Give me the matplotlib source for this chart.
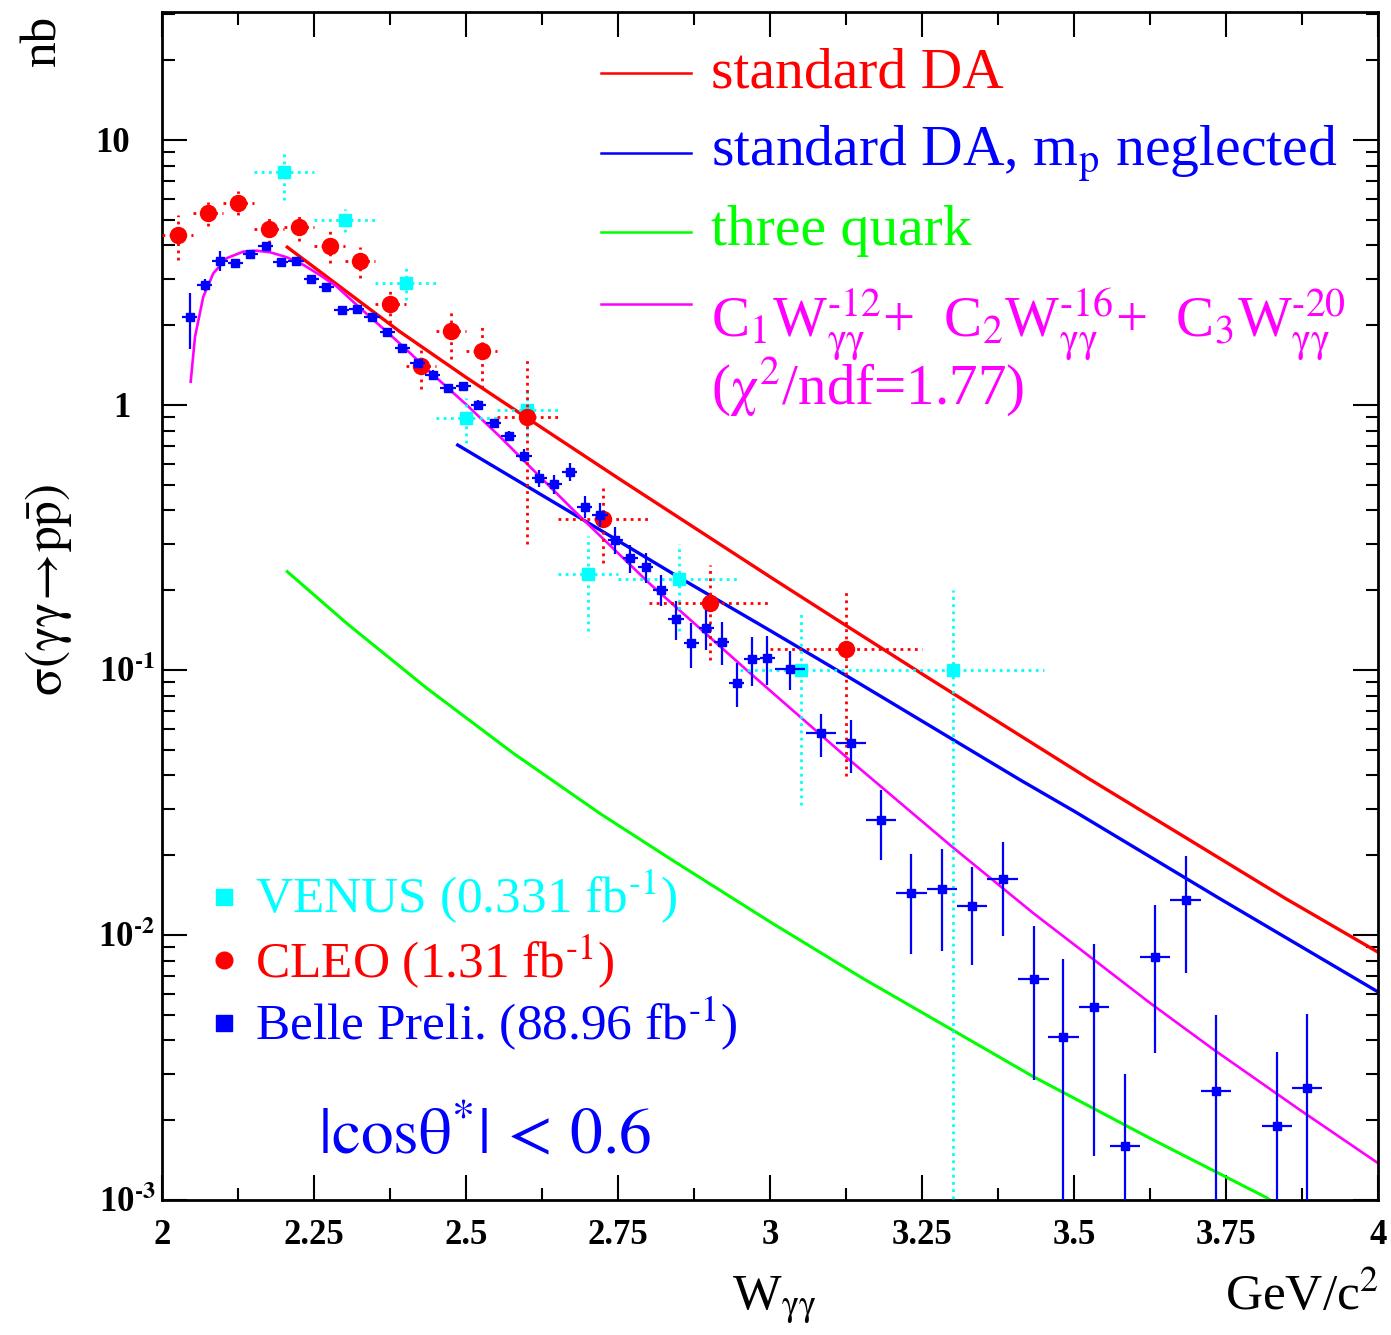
import numpy as np
import matplotlib
matplotlib.use("Agg")
import matplotlib.pyplot as plt
from matplotlib.lines import Line2D
from matplotlib.ticker import LogLocator, MultipleLocator, NullFormatter
import matplotlib.transforms as mtrans

plt.rcParams['font.family'] = ['Liberation Serif', 'DejaVu Serif']
plt.rcParams['mathtext.fontset'] = 'stix'

HY = '\u2010'  # short hyphen for exponents, like the original

# Belle preliminary (88.96 fb-1)
belle_w = [2.045, 2.070, 2.095, 2.120, 2.145, 2.170, 2.195, 2.220, 2.245, 2.270,
           2.295, 2.320, 2.345, 2.370, 2.395, 2.420, 2.445, 2.470, 2.495, 2.520,
           2.545, 2.570, 2.595, 2.620, 2.645, 2.670, 2.695, 2.720, 2.745, 2.770,
           2.795, 2.820, 2.845, 2.870, 2.895, 2.920, 2.945, 2.970, 2.995,
           3.032, 3.083, 3.133, 3.182, 3.232, 3.282, 3.332, 3.382, 3.433, 3.482,
           3.532, 3.583, 3.633, 3.683, 3.733, 3.833, 3.883]
belle_sig = [2.14, 2.84, 3.50, 3.44, 3.71, 3.99, 3.45, 3.50, 2.98, 2.78,
             2.28, 2.30, 2.14, 1.88, 1.64, 1.44, 1.30, 1.16, 1.18, 1.00,
             0.853, 0.764, 0.644, 0.529, 0.503, 0.560, 0.413, 0.385, 0.310, 0.265,
             0.245, 0.201, 0.156, 0.126, 0.144, 0.128, 0.0896, 0.110, 0.111,
             0.101, 0.0577, 0.0529, 0.0272, 0.0144, 0.0149, 0.0129, 0.0162, 0.00684, 0.00413,
             0.00537, 0.00160, 0.00828, 0.0135, 0.00258, 0.00191, 0.00264]
belle_err = [0.51, 0.14, 0.31, 0.12, 0.10, 0.10, 0.08, 0.08, 0.07, 0.07,
             0.07, 0.07, 0.06, 0.06, 0.05, 0.05, 0.05, 0.04, 0.04, 0.04,
             0.035, 0.035, 0.037, 0.04, 0.04, 0.045, 0.04, 0.04, 0.036, 0.032,
             0.032, 0.027, 0.026, 0.024, 0.025, 0.024, 0.017, 0.023, 0.023,
             0.017, 0.0108, 0.012, 0.008, 0.0059, 0.0062, 0.0052, 0.0063, 0.0040, 0.0040,
             0.0039, 0.0014, 0.0047, 0.0063, 0.0024, 0.0017, 0.0024]
belle_xerr = [0.0125] * 39 + [0.025] * 17

# CLEO (1.31 fb-1)
cleo_w = [2.025, 2.075, 2.125, 2.175, 2.225, 2.275, 2.325, 2.375, 2.425, 2.475,
          2.525, 2.600, 2.725, 2.900, 3.125]
cleo_sig = [4.38, 5.29, 5.80, 4.60, 4.71, 3.98, 3.49, 2.40, 1.40, 1.90,
            1.60, 0.90, 0.370, 0.1795, 0.1197]
cleo_err = [0.85, 0.55, 0.60, 0.50, 0.55, 0.55, 0.47, 0.36, 0.25, 0.41,
            0.44, 0.60, 0.116, 0.07, 0.08]
cleo_xerr = [0.025] * 11 + [0.05, 0.075, 0.1, 0.125]

# VENUS (0.331 fb-1)
venus_w = [2.2, 2.3, 2.4, 2.5, 2.6, 2.7, 2.85, 3.05, 3.3]
venus_sig = [7.55, 4.99, 2.89, 0.891, 0.960, 0.230, 0.220, 0.100, 0.100]
venus_err = [1.6, 0.5, 0.4, 0.17, 0.2, 0.09, 0.08, 0.069, 0.1]
venus_xerr = [0.05, 0.05, 0.05, 0.05, 0.05, 0.05, 0.1, 0.1, 0.15]

# theory curves
red_w = [2.2056, 2.391, 2.5007, 2.6322, 2.7528, 3.005, 3.1283, 3.2626, 3.523, 3.690, 3.8465, 4.0]
red_sig = [3.94, 1.889, 1.266, 0.798, 0.524, 0.2205, 0.1453, 0.0925, 0.0390, 0.0228, 0.01377, 0.0086]

blue_w = [2.4859, 2.665, 2.857, 3.0, 3.128, 3.4107, 3.5, 3.7396, 4.0]
blue_sig = [0.706, 0.402, 0.2187, 0.1407, 0.0943, 0.0385, 0.0293, 0.0137, 0.00609]

green_w = [2.2056, 2.3033, 2.4349, 2.5773, 2.7199, 2.8367, 3.0012, 3.1503, 3.4326, 3.6245, 3.8164, 3.84]
green_sig = [0.235, 0.150, 0.0854, 0.0485, 0.02874, 0.0193, 0.01115, 0.00690, 0.00292, 0.00171, 0.00102, 0.00093]

fit_w = [2.0467, 2.0538, 2.0674, 2.0839, 2.1059, 2.1332, 2.1553, 2.1771, 2.2046, 2.2319,
         2.2594, 2.2868, 2.3141, 2.3416, 2.3691, 2.3964, 2.4457, 2.5007, 2.5554, 2.6102,
         2.676, 2.8021, 2.9666, 3.1311, 3.2956, 3.4321, 3.5423, 3.6245, 3.7281, 3.8712, 4.0]
fit_sig = [1.224, 1.81, 2.56, 3.14, 3.58, 3.79, 3.82, 3.77, 3.61, 3.38,
           3.09, 2.80, 2.45, 2.15, 1.89, 1.66, 1.298, 1.0, 0.759, 0.568,
           0.4016, 0.2112, 0.0974, 0.0456, 0.02185, 0.01211, 0.00774, 0.00554, 0.00371, 0.002186, 0.001375]

ytick_vals = [1e-3, 1e-2, 1e-1, 1, 10]
ytick_text = ['10$^{\\mathbf{' + HY + '3}}$', '10$^{\\mathbf{' + HY + '2}}$',
              '10$^{\\mathbf{' + HY + '1}}$', '1', '10']
xtick_vals = [2, 2.25, 2.5, 2.75, 3, 3.25, 3.5, 3.75, 4]
xtick_text = ['2', '2.25', '2.5', '2.75', '3', '3.25', '3.5', '3.75', '4']

RED = '#ff0000'
BLUE = '#0000ff'
GREEN = '#00ff00'
MAG = '#ff00ff'
CYAN = '#00ffff'

W, H = 1391, 1335
fig = plt.figure(figsize=(W / 100, H / 100), dpi=100)
ax = fig.add_axes([162.3 / W, 1 - 1200 / H, 1216 / W, 1188 / H])
ax.set_yscale('log')
ax.set_xlim(2, 4)
ax.set_ylim(1e-3, 30.4)

# curves
ax.plot(red_w, red_sig, color=RED, lw=2.4, zorder=2)
ax.plot(blue_w, blue_sig, color=BLUE, lw=2.4, zorder=2)
ax.plot(green_w, green_sig, color=GREEN, lw=2.2, zorder=2)
ax.plot(fit_w, fit_sig, color=MAG, lw=1.9, zorder=2)

dots = (0, (1, 1.6))
eb = ax.errorbar(venus_w, venus_sig, yerr=venus_err, xerr=venus_xerr, fmt='s',
                 color=CYAN, ms=8.5, elinewidth=2.0, capsize=0, zorder=3)
for c in eb[2]:
    c.set_linestyle(dots)
eb = ax.errorbar(cleo_w, cleo_sig, yerr=cleo_err, xerr=cleo_xerr, fmt='o',
                 color=RED, ms=11.5, elinewidth=2.0, capsize=0, zorder=4)
for c in eb[2]:
    c.set_linestyle(dots)
ax.errorbar(belle_w, belle_sig, yerr=belle_err, xerr=belle_xerr, fmt='s',
            color=BLUE, ms=6, elinewidth=1.6, capsize=0, zorder=5)

# axes cosmetics
for sp in ax.spines.values():
    sp.set_linewidth(2.0)
ax.set_xticks(xtick_vals)
ax.set_xticklabels(xtick_text, fontsize=25, fontweight='bold')
ax.xaxis.set_minor_locator(MultipleLocator(0.125))
ax.yaxis.set_major_locator(LogLocator(base=10, numticks=10))
ax.yaxis.set_minor_locator(LogLocator(base=10, subs=np.arange(2, 10), numticks=20))
ax.yaxis.set_major_formatter(NullFormatter())
ax.yaxis.set_minor_formatter(NullFormatter())
ax.tick_params(which='both', direction='in', top=True, right=True, width=1.5)
ax.tick_params(which='major', length=18)
ax.tick_params(which='minor', length=9)
ax.tick_params(axis='x', which='major', pad=14)

trans = mtrans.blended_transform_factory(ax.transAxes, ax.transData)
for v, t in zip(ytick_vals, ytick_text):
    dx = -7 if '$' in t else -32
    ax.annotate(t, xy=(0, v), xycoords=trans, xytext=(dx, -12), textcoords='offset pixels',
                ha='right', va='baseline', fontsize=25, fontweight='bold', annotation_clip=False)

# axis titles
fig.text(43 / W, 1 - 40 / H, 'nb', fontsize=37, rotation=90, ha='center', va='center')
fig.text(48 / W, 1 - 590 / H, r'$\mathrm{\sigma(\gamma\gamma\!\rightarrow\! p\bar{p})}$',
         fontsize=37, rotation=90, ha='center', va='center')
fig.text(732 / W, 1 - 1310 / H, r'W$_{\mathrm{\gamma\gamma}}$', fontsize=37, ha='left', va='baseline')
fig.text(1379 / W, 1 - 1310 / H, r'GeV/c$^{2}$', fontsize=37, ha='right', va='baseline')

# legend for curves (top right)
gg = r'_{\mathrm{\gamma\gamma}}'
formula = ('C$_1$W$' + gg + '^{\\mathrm{' + HY + '12}}$+  '
           'C$_2$W$' + gg + '^{\\mathrm{' + HY + '16}}$+  '
           'C$_3$W$' + gg + '^{\\mathrm{' + HY + '20}}$')
curve_keys = [(RED, 72.7, 87, 'standard DA', 41.5),
              (BLUE, 152.7, 165, r'standard DA, m$_{\mathrm{p}}$ neglected', 41.5),
              (GREEN, 231.7, 245, 'three quark', 41.5),
              (MAG, 304, 338, formula, 41)]
for col, ly, by, txt, fs in curve_keys:
    fig.add_artist(Line2D([601 / W, 691 / W], [1 - ly / H, 1 - ly / H], color=col, lw=1.8,
                          transform=fig.transFigure))
    fig.text(711 / W, 1 - by / H, txt, color=col, fontsize=fs, ha='left', va='baseline')
fig.text(711 / W, 1 - 405 / H, r'($\mathrm{\chi^{2}}$/ndf=1.77)', color=MAG, fontsize=41,
         ha='left', va='baseline')

# legend for data (bottom left)
data_keys = [(CYAN, 's', 897, 913, 'VENUS (0.331 fb$^{' + HY + '1}$)'),
             (RED, 'o', 960, 978, 'CLEO (1.31 fb$^{' + HY + '1}$)'),
             (BLUE, 's', 1023, 1040, 'Belle Preli. (88.96 fb$^{' + HY + '1}$)')]
for col, mk, my, by, txt in data_keys:
    fig.add_artist(Line2D([224 / W], [1 - my / H], marker=mk, color=col, ms=12, ls='none',
                          transform=fig.transFigure))
    fig.text(255 / W, 1 - by / H, txt, color=col, fontsize=37, ha='left', va='baseline')

fig.text(318 / W, 1 - 1153 / H, r'$\mathrm{|cos\theta^{*}|\,<\,0.6}$', color=BLUE, fontsize=47,
         ha='left', va='baseline')

fig.savefig('out.png', dpi=100)
